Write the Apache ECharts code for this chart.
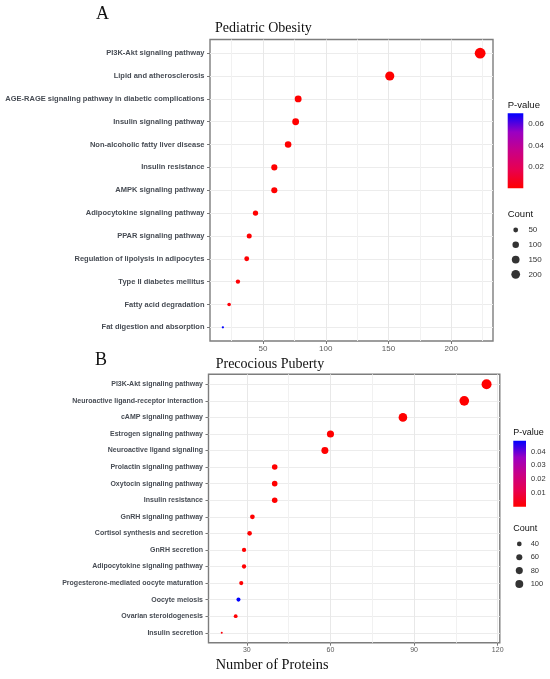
<!DOCTYPE html>
<html>
<head>
<meta charset="utf-8">
<script src="https://cdn.jsdelivr.net/npm/echarts@6/dist/echarts.min.js"></script>
<style>
  html, body { margin: 0; padding: 0; background: #fff; }
  #chart { width: 550px; height: 679px; }
</style>
</head>
<body>
<div id="chart"></div>
<script>
// ---- A: Pediatric Obesity ----
const obesityPathways = [
  'PI3K-Akt signaling pathway',
  'Lipid and atherosclerosis',
  'AGE-RAGE signaling pathway in diabetic complications',
  'Insulin signaling pathway',
  'Non-alcoholic fatty liver disease',
  'Insulin resistance',
  'AMPK signaling pathway',
  'Adipocytokine signaling pathway',
  'PPAR signaling pathway',
  'Regulation of lipolysis in adipocytes',
  'Type II diabetes mellitus',
  'Fatty acid degradation',
  'Fat digestion and absorption'
];
const obesityCounts = [223, 151, 78, 76, 70, 59, 59, 44, 39, 37, 30, 23, 18];
const obesityPValues = [1.2e-9, 3.4e-8, 2.1e-7, 5.6e-6, 8.9e-6, 1.4e-5, 3.0e-5, 2.2e-4, 4.1e-4, 6.5e-4, 1.1e-3, 1.8e-3, 0.0702];
const obesityXTicks = [50, 100, 150, 200];
const obesityPTicks = [0.02, 0.04, 0.06];
const obesityCountTicks = [50, 100, 150, 200];

// ---- B: Precocious Puberty ----
const pubertyPathways = [
  'PI3K-Akt signaling pathway',
  'Neuroactive ligand-receptor interaction',
  'cAMP signaling pathway',
  'Estrogen signaling pathway',
  'Neuroactive ligand signaling',
  'Prolactin signaling pathway',
  'Oxytocin signaling pathway',
  'Insulin resistance',
  'GnRH signaling pathway',
  'Cortisol synthesis and secretion',
  'GnRH secretion',
  'Adipocytokine signaling pathway',
  'Progesterone-mediated oocyte maturation',
  'Oocyte meiosis',
  'Ovarian steroidogenesis',
  'Insulin secretion'
];
const pubertyCounts = [116, 108, 86, 60, 58, 40, 40, 40, 32, 31, 29, 29, 28, 27, 26, 21];
const pubertyPValues = [2.0e-12, 5.1e-10, 3.3e-9, 7.2e-8, 1.5e-7, 4.4e-6, 6.0e-6, 9.1e-6, 2.3e-5, 6.8e-5, 1.2e-4, 2.0e-4, 3.5e-4, 0.0479, 6.1e-4, 1.5e-3];
const pubertyXTicks = [30, 60, 90, 120];
const pubertyPTicks = [0.01, 0.02, 0.03, 0.04];
const pubertyCountTicks = [40, 60, 80, 100];

// ggplot-like red -> blue gradient (Lab interpolated)
const GRAD = ['#ff0000', '#e80050', '#c80088', '#9a00c3', '#0000ff'];
const SANS = "'Liberation Sans', Arial, sans-serif";
const SERIF = "'Liberation Serif', 'Times New Roman', serif";

const chart = echarts.init(document.getElementById('chart'));

const grids = [], xAxes = [], yAxes = [], series = [], visualMaps = [];

function sizeScale(counts, dMin, dMax) {
  const lo = Math.min(...counts), hi = Math.max(...counts);
  return v => dMin + (dMax - dMin) * Math.sqrt(Math.max(0, (v - lo) / (hi - lo)));
}

// minor gridlines halfway between major ticks, like ggplot
function minorBreaks(ticks, lo, hi) {
  const step = ticks[1] - ticks[0];
  const out = [];
  for (let v = ticks[0] - step / 2; v <= hi; v += step) if (v >= lo) out.push(v);
  return out;
}

function addPanel(p) {
  const n = p.names.length;
  const cLo = Math.min(...p.counts), cHi = Math.max(...p.counts);
  const pad = (cHi - cLo) * 0.05;
  const xMin = cLo - pad, xMax = cHi + pad;
  const size = sizeScale(p.counts, p.dMin, p.dMax);
  const pMin = Math.min(...p.pvals), pMax = Math.max(...p.pvals);
  const rows = p.names.map((_, i) => i);

  // main plot
  const g = grids.length;
  grids.push({ left: p.box[0], top: p.box[1], width: p.box[2], height: p.box[3], outerBoundsMode: 'none',
    show: true, borderColor: '#7d7d7d', borderWidth: 1.4, backgroundColor: 'transparent' });
  const xMain = xAxes.length;
  xAxes.push({
    type: 'value', gridIndex: g, position: 'bottom', min: xMin, max: xMax,
    axisLine: { show: false, onZero: false },
    axisTick: { show: true, length: 3, customValues: p.xTicks, lineStyle: { color: '#777' } },
    axisLabel: { customValues: p.xTicks, fontSize: p.xFont, color: '#5a5a5a', margin: 4, fontFamily: SANS },
    splitLine: { show: true, lineStyle: { color: '#e8e8e8', width: 1 } }
  });
  const yMain = yAxes.length;
  yAxes.push({
    type: 'value', gridIndex: g, inverse: true, min: -0.6, max: n - 1 + 0.6,
    axisLine: { show: false, onZero: false },
    axisTick: { show: true, length: 3, customValues: rows, lineStyle: { color: '#777' } },
    axisLabel: { customValues: rows, formatter: v => p.names[Math.round(v)], fontSize: p.yFont,
      fontWeight: 'bold', color: '#474c54', margin: 5.5, fontFamily: SANS },
    splitLine: { show: true, lineStyle: { color: '#ececec', width: 1 } }
  });
  // minor vertical gridlines
  series.push({
    type: 'scatter', xAxisIndex: xMain, yAxisIndex: yMain, data: [], z: 1, silent: true,
    markLine: {
      silent: true, symbol: 'none', label: { show: false }, animation: false,
      lineStyle: { color: '#f1f1f1', width: 1, type: 'solid' },
      data: minorBreaks(p.xTicks, xMin, xMax).map(v => ({ xAxis: v }))
    }
  });
  const sMain = series.length;
  series.push({
    type: 'scatter', xAxisIndex: xMain, yAxisIndex: yMain, z: 5,
    data: p.counts.map((c, i) => [c, i, p.pvals[i]]),
    symbolSize: d => size(d[0]),
    itemStyle: { opacity: 1 }, silent: true
  });
  visualMaps.push({ type: 'continuous', show: false, seriesIndex: sMain, dimension: 2,
    min: pMin, max: pMax, inRange: { color: GRAD } });

  // colour bar
  const gc = grids.length;
  grids.push({ left: p.cbar[0], top: p.cbar[1], width: p.cbar[2], height: p.cbar[3], outerBoundsMode: 'none' });
  const xc = xAxes.length;
  xAxes.push({ type: 'category', gridIndex: gc, data: [''], show: false });
  const yc = yAxes.length;
  yAxes.push({
    type: 'value', gridIndex: gc, position: 'right', min: pMin, max: pMax,
    axisLine: { show: false, onZero: false },
    axisTick: { show: true, inside: true, length: 3, customValues: p.pTicks, lineStyle: { color: '#fff', width: 1 } },
    axisLabel: { customValues: p.pTicks, fontSize: p.legFont, color: '#333', margin: 5, fontFamily: SANS },
    splitLine: { show: false }
  });
  yAxes.push({
    type: 'value', gridIndex: gc, position: 'left', min: pMin, max: pMax,
    axisLine: { show: false, onZero: false }, axisLabel: { show: false },
    axisTick: { show: true, inside: true, length: 3, customValues: p.pTicks, lineStyle: { color: '#fff', width: 1 } },
    splitLine: { show: false }
  });
  series.push({
    type: 'bar', xAxisIndex: xc, yAxisIndex: yc, barWidth: '100%', silent: true, z: 1,
    data: [pMax],
    itemStyle: { color: new echarts.graphic.LinearGradient(0, 1, 0, 0,
      GRAD.map((c, i) => ({ offset: i / (GRAD.length - 1), color: c }))) }
  });

  // count legend
  const gs = grids.length;
  grids.push({ left: p.cnt[0], top: p.cnt[1], width: p.cnt[2], height: p.cnt[3], outerBoundsMode: 'none' });
  const xs = xAxes.length;
  xAxes.push({ type: 'value', gridIndex: gs, min: -1, max: 1, show: false });
  const ys = yAxes.length;
  yAxes.push({
    type: 'category', gridIndex: gs, inverse: true, position: 'right',
    data: p.countTicks.map(String),
    axisLine: { show: false, onZero: false }, axisTick: { show: false },
    axisLabel: { fontSize: p.legFont, color: '#333', margin: p.cntMargin, fontFamily: SANS }
  });
  series.push({
    type: 'scatter', xAxisIndex: xs, yAxisIndex: ys, silent: true,
    data: p.countTicks.map((t, i) => [0, i]),
    symbolSize: d => size(p.countTicks[d[1]]) * 0.85,
    itemStyle: { color: '#000' }
  });
}

addPanel({
  names: obesityPathways, counts: obesityCounts, pvals: obesityPValues,
  xTicks: obesityXTicks, pTicks: obesityPTicks, countTicks: obesityCountTicks,
  box: [210, 39.5, 283, 301.5], cbar: [507.7, 113.3, 15.6, 75], cnt: [509, 222.6, 13.4, 59.1], cntMargin: 6,
  dMin: 2.3, dMax: 10.8, xFont: 8, yFont: 7.5, legFont: 8
});
addPanel({
  names: pubertyPathways, counts: pubertyCounts, pvals: pubertyPValues,
  xTicks: pubertyXTicks, pTicks: pubertyPTicks, countTicks: pubertyCountTicks,
  box: [208.5, 374.3, 291.3, 268.4], cbar: [513.3, 440.7, 12.7, 66], cnt: [513.3, 537.3, 12, 53.3], cntMargin: 5.4,
  dMin: 2, dMax: 10, xFont: 7, yFont: 7, legFont: 7.5
});

function txt(text, left, top, size, family) {
  return { text, left, top, padding: 0,
    textStyle: { fontSize: size, fontWeight: 'normal', color: '#111', fontFamily: family } };
}

chart.setOption({
  animation: false,
  backgroundColor: '#fff',
  title: [
    txt('A', 96, 5, 18, SERIF),
    txt('Pediatric Obesity', 215, 21.5, 14, SERIF),
    txt('B', 95, 351, 18, SERIF),
    txt('Precocious Puberty', 215.7, 357.5, 14, SERIF),
    txt('Number of Proteins', 215.7, 658.5, 14.3, SERIF),
    txt('P-value', 507.7, 100, 9.5, SANS),
    txt('Count', 507.7, 209, 9.5, SANS),
    txt('P-value', 513.3, 428.5, 9, SANS),
    txt('Count', 513.3, 524.5, 9, SANS)
  ],
  grid: grids,
  xAxis: xAxes,
  yAxis: yAxes,
  visualMap: visualMaps,
  series: series
});
</script>
</body>
</html>
